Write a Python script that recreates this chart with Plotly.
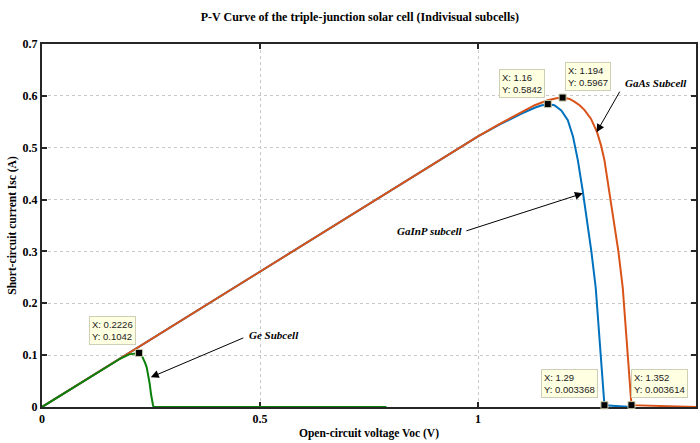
import plotly.graph_objects as go

# GaInP subcell (blue)
gainp_v = [0, 0.2, 0.4, 0.6, 0.8, 1.0, 1.05, 1.08, 1.1, 1.13, 1.145, 1.16, 1.175, 1.191, 1.206, 1.218,
           1.229, 1.240, 1.250, 1.260, 1.270, 1.278, 1.284, 1.288, 1.29, 1.352]
gainp_i = [0, 0.1044, 0.2088, 0.3132, 0.4176, 0.522, 0.545, 0.558, 0.566, 0.577, 0.5815, 0.5842, 0.582,
           0.572, 0.553, 0.521, 0.476, 0.418, 0.36, 0.30, 0.23, 0.14, 0.07, 0.02, 0.003368, 0]

# GaAs subcell (orange)
gaas_v = [0, 0.2, 0.4, 0.6, 0.8, 1.0, 1.05, 1.1, 1.13, 1.16, 1.18, 1.194, 1.21, 1.221, 1.233, 1.244,
          1.259, 1.273, 1.282, 1.29, 1.301, 1.311, 1.322, 1.332, 1.340, 1.346, 1.35, 1.352, 1.5]
gaas_i = [0, 0.1044, 0.2088, 0.3132, 0.4176, 0.522, 0.546, 0.568, 0.582, 0.5915, 0.5955, 0.5967, 0.594,
          0.589, 0.582, 0.573, 0.556, 0.530, 0.505, 0.476, 0.418, 0.36, 0.30, 0.23, 0.14, 0.07, 0.02,
          0.003614, 0]

# Ge subcell (green)
ge_v = [0, 0.05, 0.1, 0.15, 0.18, 0.2, 0.212, 0.2226, 0.228, 0.232, 0.236, 0.24, 0.244, 0.247, 0.25,
        0.252, 0.2545, 0.256, 0.79]
ge_i = [0, 0.026, 0.052, 0.078, 0.0935, 0.1015, 0.1035, 0.1042, 0.1005, 0.094, 0.086, 0.077, 0.062,
        0.045, 0.025, 0.013, 0.004, 0, 0]

# data tips
tip_v = [0.2226, 1.16, 1.194, 1.29, 1.352]
tip_i = [0.1042, 0.5842, 0.5967, 0.003368, 0.003614]
tip_text = ["X: 0.2226<br>Y: 0.1042", "X: 1.16<br>Y: 0.5842", "X: 1.194<br>Y: 0.5967",
            "X: 1.29<br>Y: 0.003368", "X: 1.352<br>Y: 0.003614"]

x_ticks = [0, 0.5, 1, 1.5]
x_tick_labels = ["0", "0.5", "1", "1.5"]
y_ticks = [0, 0.1, 0.2, 0.3, 0.4, 0.5, 0.6, 0.7]
y_tick_labels = ["0", "0.1", "0.2", "0.3", "0.4", "0.5", "0.6", "0.7"]

SERIF = "Liberation Serif, Times New Roman, serif"

fig = go.Figure()
fig.add_trace(go.Scatter(x=gainp_v, y=gainp_i, mode="lines", line=dict(color="#0072BD", width=2),
                         name="GaInP", cliponaxis=False))
fig.add_trace(go.Scatter(x=gaas_v, y=gaas_i, mode="lines", line=dict(color="#D95319", width=2),
                         name="GaAs", cliponaxis=False))
fig.add_trace(go.Scatter(x=ge_v, y=ge_i, mode="lines", line=dict(color="#0A800A", width=2),
                         name="Ge", cliponaxis=False))
fig.add_trace(go.Scatter(x=tip_v, y=tip_i, mode="markers", cliponaxis=False,
                         marker=dict(symbol="square", size=7, color="black",
                                     line=dict(color="#c8c8a8", width=1)), name="tips"))

# data tip boxes: (xanchor, xshift, yshift)
tip_place = [("right", -3, 8), ("right", -3, 6), ("left", 2, 7), ("right", -6, 7), ("left", 0, 7)]
for v, i, t, (xa, xs, ys) in zip(tip_v, tip_i, tip_text, tip_place):
    fig.add_annotation(x=v, y=i, xref="x", yref="y", text=t, showarrow=False, align="left",
                       xanchor=xa, yanchor="bottom", xshift=xs, yshift=ys,
                       font=dict(family="Liberation Sans, Arial", size=9.5, color="#222"),
                       bgcolor="#FFFFE1", bordercolor="#cfcfb8", borderwidth=1, borderpad=2)

# labels with arrows
labels = [("GaAs Subcell", 1.332, 0.624, "left", 1.272, 0.530, 24, -42),
          ("GaInP subcell", 0.971, 0.3385, "right", 1.2405, 0.412, -118, 38),
          ("Ge Subcell", 0.471, 0.138, "left", 0.2495, 0.0573, 94, -40)]
for txt, tx, ty, xa, hx, hy, ax, ay in labels:
    fig.add_annotation(x=tx, y=ty, xref="x", yref="y", text="<b><i>" + txt + "</i></b>", showarrow=False,
                       xanchor=xa, yanchor="middle", font=dict(family=SERIF, size=11, color="black"))
    fig.add_annotation(x=hx, y=hy, xref="x", yref="y", text="", showarrow=True, ax=ax, ay=ay,
                       arrowhead=2, arrowsize=1.6, arrowwidth=1, arrowcolor="black")

axis_common = dict(showline=True, linecolor="#262626", linewidth=2, mirror="ticks",
                   ticks="inside", ticklen=5, tickwidth=2, tickcolor="#262626",
                   showgrid=True, gridcolor="#c8c8c8", griddash="dot", gridwidth=1,
                   zeroline=False, layer="below traces",
                   tickfont=dict(family=SERIF, size=12, color="black"))

fig.update_layout(
    width=700, height=443,
    margin=dict(l=42, r=2, t=44, b=36),
    paper_bgcolor="white", plot_bgcolor="white",
    showlegend=False,
    title=dict(text="<b>P-V Curve of the triple-junction solar cell (Indivisual subcells)</b>",
               x=0.514, xanchor="center", y=0.962, yanchor="middle",
               font=dict(family=SERIF, size=12, color="black")),
    xaxis=dict(range=[0, 1.5], tickvals=x_ticks, ticktext=["<b>%s</b>" % s for s in x_tick_labels],
               title=dict(text="<b>Open-circuit voltage Voc (V)</b>", standoff=4,
                          font=dict(family=SERIF, size=11.5, color="black")),
               **axis_common),
    yaxis=dict(range=[0, 0.7], tickvals=y_ticks, ticktext=["<b>%s</b>" % s for s in y_tick_labels],
               title=dict(text="<b>Short-circuit current Isc (A)</b>", standoff=4,
                          font=dict(family=SERIF, size=11.5, color="black")),
               **axis_common),
)

fig.write_html("out.html")
